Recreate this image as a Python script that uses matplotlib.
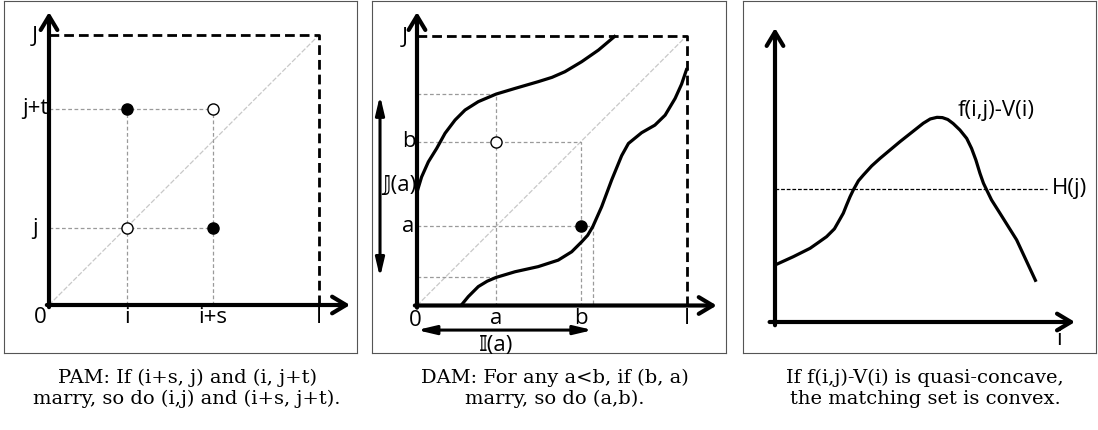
import matplotlib
matplotlib.use("Agg")
import matplotlib.pyplot as plt

W, H = 1098, 430

# ---- panel 1 (PAM) ----
pam_x = [0.289, 0.607]          # i, i+s
pam_y = [0.285, 0.726]          # j, j+t
pam_xlabels = ["i", "i+s"]
pam_ylabels = ["j", "j+t"]
pam_filled = [(0.289, 0.726), (0.607, 0.285)]
pam_open = [(0.289, 0.285), (0.607, 0.726)]

# ---- panel 2 (DAM) ----
dam_a, dam_b = 0.293, 0.607
dam_upper_x = [0.0, 0.017, 0.042, 0.073, 0.104, 0.141, 0.178, 0.227, 0.293,
               0.363, 0.449, 0.50, 0.548, 0.61, 0.672, 0.736]
dam_upper_y = [0.42, 0.476, 0.532, 0.582, 0.638, 0.687, 0.724, 0.755, 0.783,
               0.804, 0.829, 0.845, 0.866, 0.903, 0.946, 1.0]
dam_lower_x = [0.163, 0.19, 0.227, 0.26, 0.293, 0.363, 0.449, 0.523, 0.573, 0.61,
               0.632, 0.651, 0.684, 0.721, 0.758, 0.783, 0.832, 0.881, 0.919,
               0.956, 0.98, 1.0]
dam_lower_y = [0.0, 0.033, 0.07, 0.09, 0.104, 0.125, 0.144, 0.168, 0.199, 0.236,
               0.26, 0.292, 0.366, 0.465, 0.555, 0.6, 0.64, 0.668, 0.705,
               0.767, 0.82, 0.879]
dam_upper_at_a = 0.783
dam_lower_at_a = 0.104
dam_lower_x_at_a = 0.651

# ---- panel 3 (quasi-concave) ----
qc_x = [0.0, 0.068, 0.13, 0.16, 0.191, 0.22, 0.24, 0.253, 0.265, 0.278, 0.29,
        0.309, 0.327, 0.358, 0.389, 0.463, 0.525, 0.549, 0.575, 0.6, 0.62, 0.64,
        0.66, 0.685, 0.71, 0.728, 0.744, 0.759, 0.772, 0.784, 0.802, 0.833,
        0.895, 0.967]
qc_y = [0.211, 0.242, 0.273, 0.294, 0.316, 0.345, 0.38, 0.403, 0.433, 0.464,
        0.489, 0.523, 0.544, 0.578, 0.606, 0.668, 0.717, 0.736, 0.752, 0.758,
        0.757, 0.75, 0.735, 0.711, 0.68, 0.643, 0.6, 0.551, 0.514, 0.489, 0.452,
        0.403, 0.304, 0.149]
qc_h = 0.493

captions = [
    "PAM: If (i+s, j) and (i, j+t)\nmarry, so do (i,j) and (i+s, j+t).",
    "DAM: For any a<b, if (b, a)\nmarry, so do (a,b).",
    "If f(i,j)-V(i) is quasi-concave,\nthe matching set is convex.",
]

LAB = dict(family=["Open Sans", "DejaVu Sans"], fontsize=16, ha="center", va="center")
GUIDE = dict(color="#9a9a9a", lw=0.9, ls=(0, (3, 2)))
DIAG = dict(color="#c8c8c8", lw=0.9, ls=(0, (4, 1.5)))
BORDER = dict(color="black", lw=2, ls=(0, (3.5, 1.8)))
CURVE = dict(color="black", lw=2.3, solid_capstyle="butt", solid_joinstyle="round")
AX_ARROW = dict(arrowstyle="->,head_length=0.5,head_width=0.3", lw=3, color="black",
                mutation_scale=20, shrinkA=0, shrinkB=0)

fig = plt.figure(figsize=(W / 100, H / 100), dpi=100)


def px_axes(L, T, R, B, ox, oy, s=270.0):
    ax = fig.add_axes([L / W, 1 - B / H, (R - L) / W, (B - T) / H])
    ax.set_xlim((L - ox) / s, (R - ox) / s)
    ax.set_ylim((oy - B) / s, (oy - T) / s)
    ax.set_xticks([])
    ax.set_yticks([])
    for sp in ax.spines.values():
        sp.set_color("#555555")
        sp.set_linewidth(0.8)
    return ax


def arrows(ax, xtip, ytip, x0=-0.008, y0=-0.008):
    ax.annotate("", xy=(xtip, 0), xytext=(x0, 0), arrowprops=AX_ARROW)
    ax.annotate("", xy=(0, ytip), xytext=(0, y0), arrowprops=AX_ARROW)


# panel 1
ax1 = px_axes(4, 1, 357, 353, 49, 305)
ax1.plot([0, 1], [0, 1], **DIAG)
for x in pam_x:
    ax1.plot([x, x], [0, max(pam_y)], **GUIDE)
for y in pam_y:
    ax1.plot([0, max(pam_x)], [y, y], **GUIDE)
ax1.plot([0, 1, 1], [1, 1, 0], **BORDER)
arrows(ax1, 1.115, 1.085)
ax1.plot(*zip(*pam_filled), "o", ms=8, mfc="black", mec="black", zorder=5)
ax1.plot(*zip(*pam_open), "o", ms=8, mfc="white", mec="black", mew=1, zorder=5)
for x, t in zip(pam_x, pam_xlabels):
    ax1.text(x, -0.048, t, **LAB)
for y, t in zip(pam_y, pam_ylabels):
    ax1.text(-0.052, y, t, **LAB)
ax1.text(-0.033, -0.048, "0", **LAB)
ax1.text(1.0, -0.048, "I", **LAB)
ax1.text(-0.052, 0.993, "J", **LAB)

# panel 2
ax2 = px_axes(372, 1, 726, 353, 417, 305.5)
ax2.plot([0, 1], [0, 1], **DIAG)
ax2.plot([0, dam_a, dam_a], [dam_upper_at_a, dam_upper_at_a, 0], **GUIDE)
ax2.plot([0, dam_a], [dam_lower_at_a, dam_lower_at_a], **GUIDE)
ax2.plot([0, dam_b, dam_b], [dam_b, dam_b, 0], **GUIDE)
ax2.plot([0, dam_lower_x_at_a, dam_lower_x_at_a], [dam_a, dam_a, 0], **GUIDE)
ax2.plot([0, 1, 1], [1, 1, 0], **BORDER)
ax2.plot(dam_upper_x, dam_upper_y, **CURVE)
ax2.plot(dam_lower_x, dam_lower_y, **CURVE)
arrows(ax2, 1.11, 1.087)
ax2.plot([dam_a], [dam_b], "o", ms=8, mfc="white", mec="black", mew=1, zorder=5)
ax2.plot([dam_b], [dam_a], "o", ms=8, mfc="black", mec="black", zorder=5)
dbl = dict(arrowstyle="<|-|>,head_length=0.55,head_width=0.13", lw=2.2, color="black",
           mutation_scale=20, shrinkA=0, shrinkB=0)
ax2.annotate("", xy=(-0.137, dam_upper_at_a - 0.005), xytext=(-0.137, dam_lower_at_a),
             arrowprops=dbl)
ax2.annotate("", xy=(0.0, -0.091), xytext=(dam_lower_x_at_a, -0.091), arrowprops=dbl)
ax2.text(-0.067, 0.446, "\U0001D541(a)", **LAB)
ax2.text(dam_a, -0.15, "\U0001D540(a)", **LAB)
ax2.text(-0.044, 0.993, "J", **LAB)
ax2.text(-0.03, dam_b, "b", **LAB)
ax2.text(-0.033, dam_a, "a", **LAB)
ax2.text(-0.007, -0.054, "0", **LAB)
ax2.text(dam_a, -0.048, "a", **LAB)
ax2.text(dam_b, -0.048, "b", **LAB)
ax2.text(1.0, -0.048, "I", **LAB)

# panel 3
ax3 = px_axes(743, 1, 1096, 353, 775, 322)
ax3.plot([0, 1.006], [qc_h, qc_h], color="black", lw=0.9, ls=(0, (3, 1.5)))
ax3.plot(qc_x, qc_y, **CURVE)
arrows(ax3, 1.111, 1.089, x0=-0.02, y0=-0.012)
ax3.text(0.678, 0.785, "f(i,j)-V(i)", **{**LAB, "ha": "left"})
ax3.text(1.026, qc_h, "H(j)", **{**LAB, "ha": "left"})
ax3.text(1.052, -0.063, "i", **LAB)

# captions
for cx, txt in zip([187, 555, 925], captions):
    fig.text(cx / W, 1 - 388 / H, txt, family="DejaVu Serif", fontsize=14,
             ha="center", va="center", linespacing=1.2)

fig.savefig("out.png", dpi=100)
